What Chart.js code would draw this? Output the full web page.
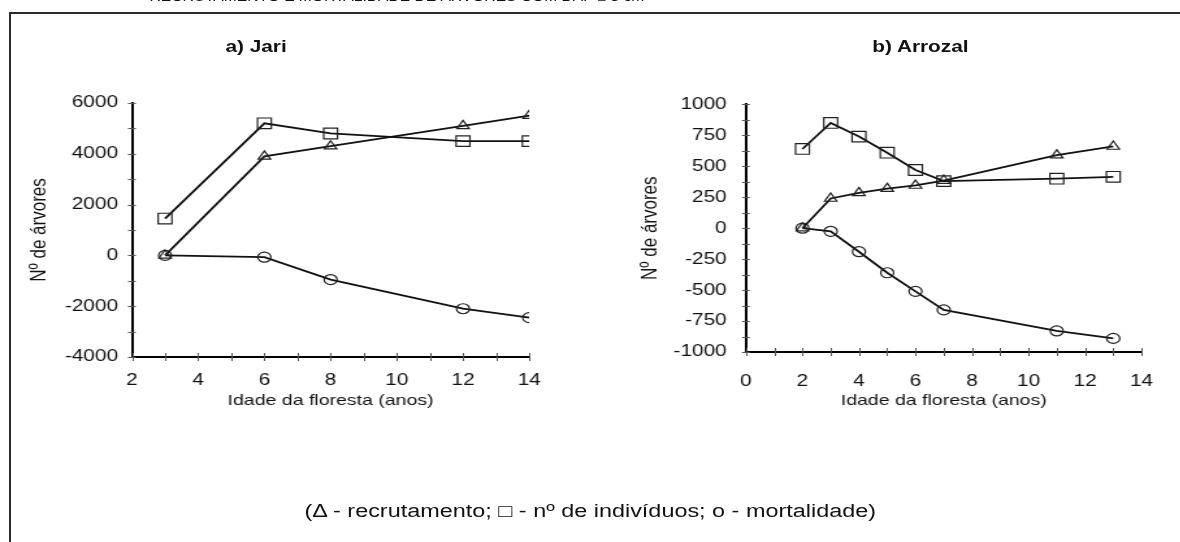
<!DOCTYPE html>
<html lang="pt">
<head>
<meta charset="utf-8">
<title>Recrutamento e mortalidade – Jari e Arrozal</title>
<script src="https://cdn.jsdelivr.net/npm/chart.js@4.4.1/dist/chart.umd.min.js"></script>
<style>
  html, body { margin: 0; padding: 0; background: #fff; }
  body { width: 1180px; height: 542px; overflow: hidden; position: relative; font-family: "Liberation Sans", Arial, sans-serif; color: #111; }
  .moldura-topo { position: absolute; left: 9px; top: 12px; width: 1171px; height: 2px; background: #2a2a2a; }
  .moldura-esq { position: absolute; left: 9px; top: 12px; width: 2px; height: 530px; background: #2a2a2a; }
  /* a figura inteira vem esticada na horizontal */
  .pagina { position: absolute; left: 0; top: 0; width: 908px; height: 542px; transform: scaleX(1.3); transform-origin: 0 0; }
  .cabecalho { position: absolute; top: -10px; left: 115px; font-size: 12px; white-space: nowrap; }
  .titulo { position: absolute; top: 38px; font-weight: bold; font-size: 16px; transform: translateX(-50%); white-space: nowrap; }
  .grafico { position: absolute; top: 80px; }
  .legenda { position: absolute; top: 501px; left: 454px; transform: translateX(-50%); font-size: 18px; white-space: nowrap; }
</style>
</head>
<body>
<div class="moldura-topo"></div>
<div class="moldura-esq"></div>

<div class="pagina">
  <div class="cabecalho">RECRUTAMENTO E MORTALIDADE DE ÁRVORES COM DAP ≥ 5 cm</div>
  <div class="titulo" style="left:197px">a) Jari</div>
  <div class="titulo" style="left:708px">b) Arrozal</div>
  <canvas id="jariChart" class="grafico" style="left:0px" width="430" height="345"></canvas>
  <canvas id="arrozalChart" class="grafico" style="left:455px" width="452" height="345"></canvas>
  <div class="legenda">(Δ - recrutamento; □ - nº de indivíduos; o - mortalidade)</div>
</div>

<script>
// ---------- Jari ----------
const jariIdade = [3, 6, 8, 12, 14];
const jariIndividuos = [1450, 5200, 4800, 4500, 4500];
const jariRecrutamento = [0, 3900, 4300, 5100, 5500];
const jariMortalidade = [0, -70, -950, -2100, -2450];
const jariTicksX = [2, 4, 6, 8, 10, 12, 14];
const jariTicksY = [-4000, -2000, 0, 2000, 4000, 6000];

// ---------- Arrozal ----------
const arrozalIdade = [2, 3, 4, 5, 6, 7, 11, 13];
const arrozalIndividuos = [640, 850, 740, 610, 470, 380, 400, 415];
const arrozalRecrutamento = [0, 240, 285, 320, 345, 385, 590, 660];
const arrozalMortalidade = [0, -25, -190, -360, -510, -660, -830, -890];
const arrozalTicksX = [0, 2, 4, 6, 8, 10, 12, 14];
const arrozalTicksY = [-1000, -750, -500, -250, 0, 250, 500, 750, 1000];

const FONTE = '"Liberation Sans", Arial, sans-serif';
const PRETO = '#111';

// marcas curtas cruzando os eixos (maiores e menores)
const marcasEixo = {
  id: 'marcasEixo',
  afterDraw(chart) {
    const { ctx, chartArea: a, scales: { x, y } } = chart;
    ctx.save();
    ctx.strokeStyle = '#555';
    ctx.lineWidth = 1;
    ctx.beginPath();
    x.ticks.forEach(t => {
      const px = Math.round(x.getPixelForValue(t.value)) + 0.5;
      ctx.moveTo(px, a.bottom - 4);
      ctx.lineTo(px, a.bottom + 4);
    });
    y.ticks.forEach(t => {
      const py = Math.round(y.getPixelForValue(t.value)) + 0.5;
      ctx.moveTo(a.left - 3, py);
      ctx.lineTo(a.left + 3, py);
    });
    ctx.stroke();
    ctx.restore();
  }
};

function serie(idade, valores, estilo, raio) {
  return {
    data: idade.map((x, i) => ({ x, y: valores[i] })),
    showLine: true,
    borderColor: PRETO,
    borderWidth: 1.8,
    tension: 0,
    pointStyle: estilo,
    pointRadius: raio,
    pointBorderColor: '#222',
    pointBorderWidth: 1.2,
    pointBackgroundColor: 'rgba(0,0,0,0)'
  };
}

function buildChart(id, cfg) {
  const ctx = document.getElementById(id).getContext('2d');
  const xMin = cfg.ticksX[0], xMax = cfg.ticksX[cfg.ticksX.length - 1];
  const yMin = cfg.ticksY[0], yMax = cfg.ticksY[cfg.ticksY.length - 1];
  const yPasso = cfg.ticksY[1] - cfg.ticksY[0];

  return new Chart(ctx, {
    type: 'scatter',
    data: {
      datasets: [
        serie(cfg.idade, cfg.individuos, 'rect', 7.5),
        serie(cfg.idade, cfg.recrutamento, 'triangle', 5.5),
        serie(cfg.idade, cfg.mortalidade, 'circle', 5)
      ]
    },
    options: {
      responsive: false,
      animation: false,
      layout: { padding: { left: 0, top: 23, right: cfg.padRight, bottom: 0 } },
      plugins: { legend: { display: false }, tooltip: { enabled: false } },
      scales: {
        x: {
          type: 'linear',
          min: xMin, max: xMax,
          afterFit: s => { s.height = cfg.alturaX; },
          ticks: {
            stepSize: 1, autoSkip: false, maxRotation: 0,
            padding: cfg.padTickX, color: PRETO,
            font: { family: FONTE, size: 16 },
            callback: v => cfg.ticksX.includes(v) ? v : ''
          },
          grid: { display: false, drawTicks: false },
          border: { display: true, color: '#000', width: 2 },
          title: {
            display: true, text: 'Idade da floresta (anos)', color: PRETO,
            font: { family: FONTE, size: 15 }, padding: { top: 0, bottom: 15 }
          }
        },
        y: {
          min: yMin, max: yMax,
          afterFit: s => { s.width = cfg.larguraY; },
          ticks: {
            stepSize: yPasso / 2, autoSkip: false,
            padding: cfg.padTickY, color: PRETO,
            font: { family: FONTE, size: 16 },
            callback: v => cfg.ticksY.includes(v) ? v : ''
          },
          grid: { display: false, drawTicks: false },
          border: { display: true, color: '#000', width: 2 },
          title: {
            display: true, text: 'Nº de árvores', color: PRETO,
            font: { family: FONTE, size: 17 }, padding: { top: cfg.padTituloY, bottom: 0 }
          }
        }
      }
    },
    plugins: [marcasEixo]
  });
}

buildChart('jariChart', {
  idade: jariIdade, individuos: jariIndividuos,
  recrutamento: jariRecrutamento, mortalidade: jariMortalidade,
  ticksX: jariTicksX, ticksY: jariTicksY,
  padRight: 21.5, larguraY: 101.5, alturaX: 68,
  padTickX: 14, padTickY: 10.7, padTituloY: 20.6
});

buildChart('arrozalChart', {
  idade: arrozalIdade, individuos: arrozalIndividuos,
  recrutamento: arrozalRecrutamento, mortalidade: arrozalMortalidade,
  ticksX: arrozalTicksX, ticksY: arrozalTicksY,
  padRight: 14.7, larguraY: 118.8, alturaX: 73,
  padTickX: 20, padTickY: 14.8, padTituloY: 34.8
});
</script>
</body>
</html>
